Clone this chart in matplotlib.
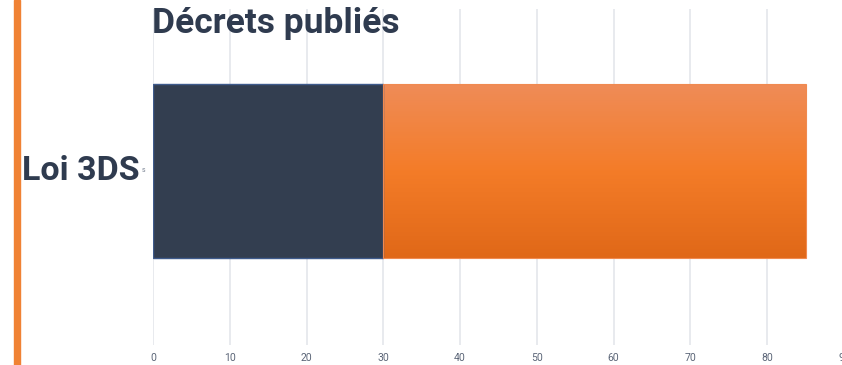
import numpy as np
import matplotlib.pyplot as plt
from matplotlib.colors import LinearSegmentedColormap
from matplotlib.patches import Rectangle

categories = ['Loi 3DS']
published = [30]
total = [85]
x_ticks = [0, 10, 20, 30, 40, 50, 60, 70, 80, 90]

dark = '#333e50'
orange_top = '#ef8c58'
orange_mid = '#f47c28'
orange_bot = '#e06818'
text_color = '#2f3b4f'


def main():
    fig = plt.figure(figsize=(8.42, 3.65), dpi=100)
    fig.patch.set_facecolor('white')
    W, H = 842, 365
    ax = fig.add_axes([153 / W, 1 - 345 / H, 691 / W, 336 / H])

    bar_h = 0.518
    y = np.arange(len(categories))
    remaining = [t - p for t, p in zip(total, published)]

    ax.barh(y, published, height=bar_h, color=dark, edgecolor='#3f5b8c',
            linewidth=1.0, zorder=3)
    bars = ax.barh(y, remaining, left=published, height=bar_h,
                   color='none', edgecolor='#f08a50', linewidth=0.8, zorder=3)

    # vertical gradient on the orange part
    cmap = LinearSegmentedColormap.from_list('og', [orange_bot, orange_mid, orange_top])
    grad = np.linspace(0, 1, 256).reshape(-1, 1)
    for b in bars:
        x0, y0 = b.get_x(), b.get_y()
        im = ax.imshow(grad, cmap=cmap, aspect='auto', origin='lower',
                       extent=[x0, x0 + b.get_width(), y0, y0 + b.get_height()],
                       zorder=2)
        im.set_clip_path(Rectangle((x0, y0), b.get_width(), b.get_height(),
                                   transform=ax.transData))

    ax.set_xlim(0, 90)
    ax.set_ylim(-0.518, 0.482)
    ax.set_xticks(x_ticks)
    ax.set_xticklabels([str(v) for v in x_ticks], fontsize=7.5, color='#5b6577',
                       family='Roboto')
    ax.set_yticks([])
    ax.tick_params(axis='x', length=0, pad=6)
    ax.grid(axis='x', color='#e6e8ed', linewidth=1.3, zorder=0)
    for s in ax.spines.values():
        s.set_visible(False)

    for yi, cat in zip(y, categories):
        ax.text(-1.7, yi, cat, ha='right', va='center', fontsize=24.5,
                fontweight='bold', color=text_color, family='Roboto')
        ax.text(-1.5, yi, 's', ha='left', va='center', fontsize=5,
                color='#7a8393', family='Roboto')

    fig.text(152 / W, 1 - 24 / H, 'Décrets publiés', ha='left', va='center',
             fontsize=25.5, fontweight='bold', color=text_color, family='Roboto')

    # accent line on the left
    fig.add_artist(Rectangle((14 / W, 0), 6 / W, 1, transform=fig.transFigure,
                             color='#f08234', zorder=5))

    fig.savefig('out.png', dpi=100)


if __name__ == '__main__':
    main()
